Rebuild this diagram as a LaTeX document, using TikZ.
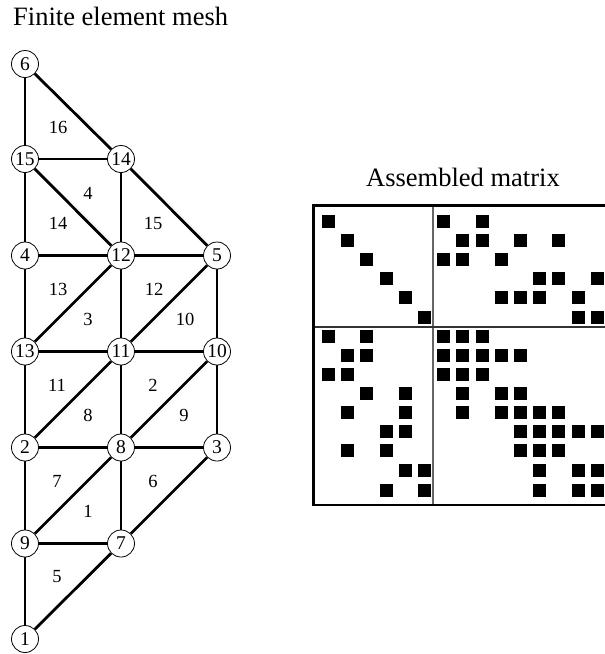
\documentclass[tikz,border=0pt]{standalone}
\usepackage{fontspec}
\setmainfont{Liberation Serif}
\tikzset{
  meshnode/.style={circle,draw=black,line width=0.8pt,fill=white,minimum size=27pt,inner sep=0pt,font=\fontsize{19.5}{20}\selectfont},
  meshedge/.style={line width=2.8pt,black},
  elemlabel/.style={font=\fontsize{18.5}{19}\selectfont,inner sep=0pt},
  titlelabel/.style={font=\fontsize{26.5}{28}\selectfont,inner sep=0pt},
  matcell/.style={fill=black},
  frameouter/.style={line width=2.2pt,black},
  frameinner/.style={line width=1.2pt,black!60},
  frameinnerh/.style={line width=1.1pt,black!80}
}
\begin{document}
\begin{tikzpicture}[x=1pt,y=-1pt]
\useasboundingbox (0,0) rectangle (605,654);
\clip (0,0) rectangle (605,654);
\node[titlelabel,anchor=base west] (t1) at (13,25) {Finite element mesh};
\node[titlelabel,anchor=base west] (t2) at (366,186) {Assembled matrix};
\foreach \n/\x/\y in {6/25/64,15/25/159,14/121/159,4/25/255.5,12/121/255.5,5/217/255.5,13/25/351.5,11/121/351.5,10/217/351.5,2/25/447.5,8/121/447.5,3/217/447.5,9/25/543.5,7/121/543.5,1/25/639}{
  \node[meshnode] (n\n) at (\x,\y) {\n};
}
\foreach \a/\b in {6/15,6/14,15/14,15/4,15/12,14/12,14/5,4/12,12/5,4/13,12/13,12/11,5/11,5/10,13/11,11/10,13/2,11/2,11/8,10/8,10/3,2/8,8/3,2/9,8/9,8/7,3/7,9/7,9/1,7/1}{
  \draw[meshedge] (n\a) -- (n\b);
}
\foreach \t/\x/\y in {16/58/127,4/88/193,14/58/223,15/153/223,13/58/289,3/88/319,12/154/289,10/185/319,11/57/385,8/88/415,2/153/385,9/184/415,7/57/481,1/88/511,6/153/481,5/57/577}{
  \node[elemlabel] (e\t) at (\x,\y) {\t};
}
% matrix
\def\colx#1{\ifcase#1\or322\or341\or360\or380\or399\or418\or437\or456\or476\or495\or514\or533\or552\or572\or591\fi}
\def\rowy#1{\ifcase#1\or215\or234\or253\or272\or291\or311\or330\or349\or368\or387\or406\or425\or444\or464\or484\fi}
\foreach \r/\cols in {1/{1,7,9},2/{2,8,9,11,13},3/{3,7,8,10},4/{4,12,13,15},5/{5,10,11,12,14},6/{6,14,15},7/{1,3,7,8,9},8/{2,3,7,8,9,10,11},9/{1,2,7,8,9},10/{3,5,8,10,11},11/{2,5,8,10,11,12,13},12/{4,5,11,12,13,14,15},13/{2,4,11,12,13},14/{5,6,12,14,15},15/{4,6,12,14,15}}{
  \foreach \c in \cols {
    \fill[matcell] (\colx{\c},\rowy{\r}) rectangle ++(13,13);
  }
}
\draw[frameinner] (433,205) -- (433,505);
\draw[frameinnerh] (313,327) -- (606,327);
\draw[frameouter] (607,205.5) -- (313.5,205.5) -- (313.5,505) -- (607,505);
\end{tikzpicture}
\end{document}
